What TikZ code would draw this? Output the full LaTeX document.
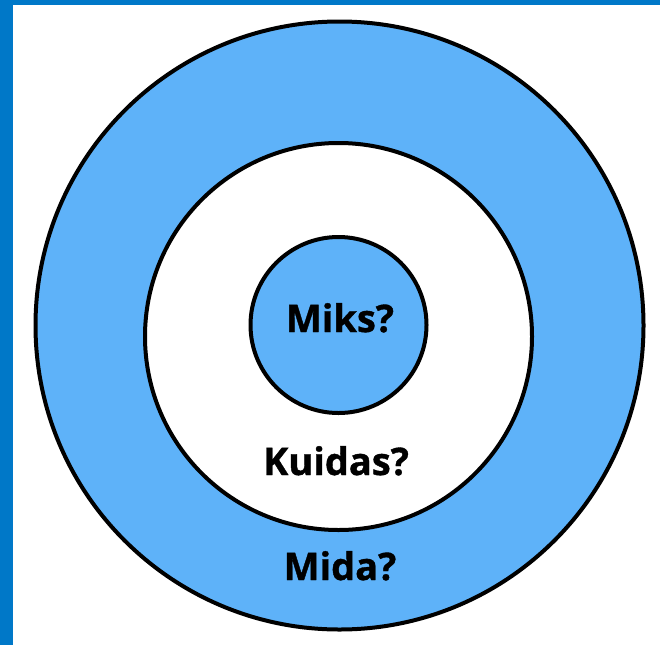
\documentclass[tikz,border=0pt]{standalone}
\usepackage{fontspec}
\setmainfont{Open Sans}
\newfontfamily\lblfont[BoldFeatures={FakeBold=1}]{Open Sans}
\definecolor{ringblue}{RGB}{94,178,249}
\definecolor{frameblue}{RGB}{0,120,200}
\tikzset{
  ring/.style={draw=black, line width=4pt},
  lbl/.style={anchor=base, font=\lblfont\bfseries\fontsize{38}{42}\selectfont, text=black, inner sep=0pt}
}
\begin{document}
\begin{tikzpicture}[x=1pt,y=-1pt]
\useasboundingbox (0,0) rectangle (660,645);
\fill[white] (0,0) rectangle (660,645);
\fill[frameblue] (0,0) rectangle (660,5);
\fill[frameblue] (0,0) rectangle (13,645);
\draw[ring, fill=ringblue] (339.5,325.5) circle[radius=304];
\draw[ring, fill=white] (338.5,336.5) circle[radius=193.5];
\draw[ring, fill=ringblue] (338.5,325) circle[radius=88];
\node[lbl] (miks) at (340,332) {Miks?};
\node[lbl] (kuidas) at (336,475) {Kuidas?};
\node[lbl] (mida) at (340,580) {Mida?};
\end{tikzpicture}
\end{document}
